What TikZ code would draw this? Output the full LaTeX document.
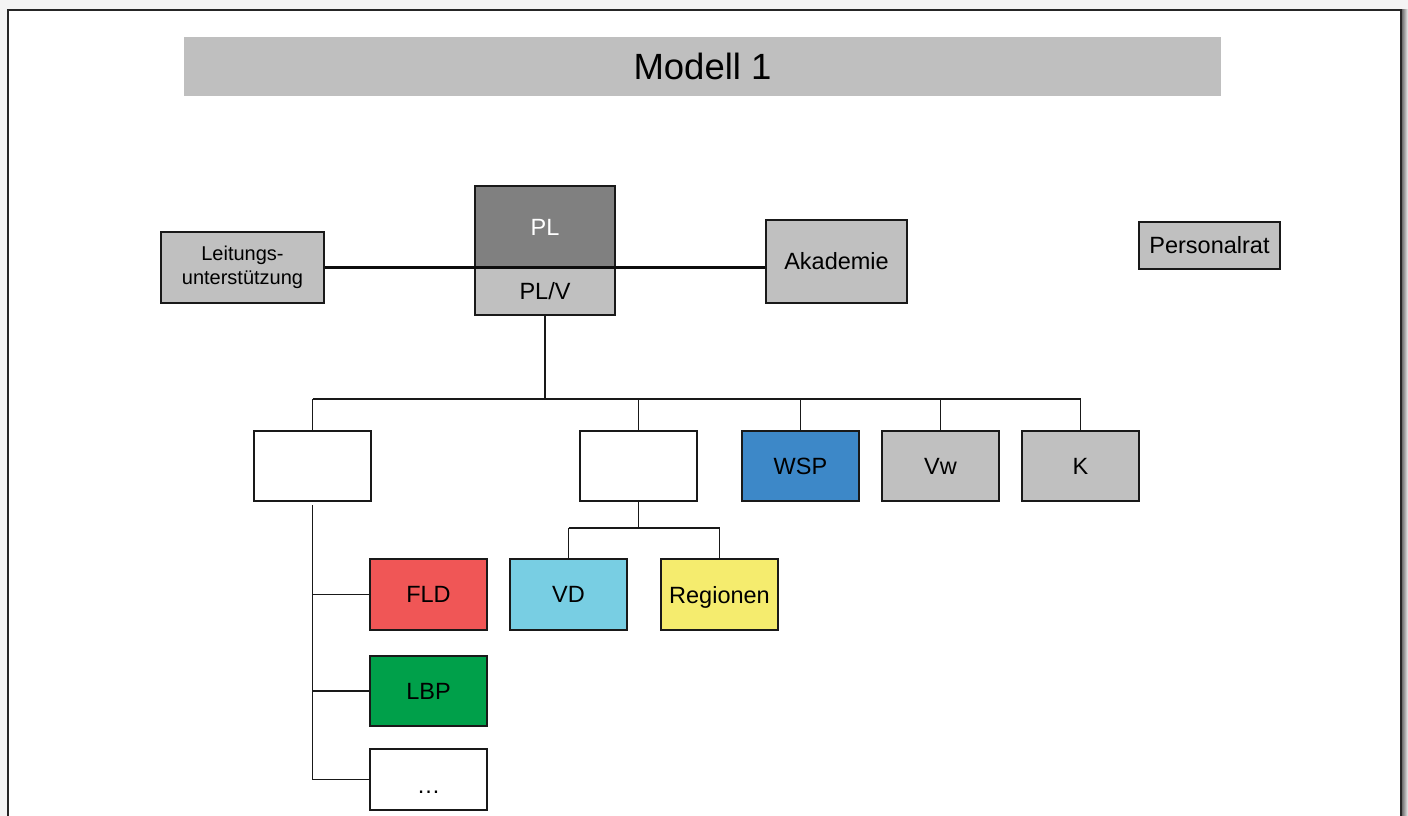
\documentclass[tikz,border=0pt]{standalone}
\usepackage{fontspec}
\setmainfont{Liberation Sans}
\definecolor{bggray}{HTML}{F4F4F4}
\definecolor{titlegray}{HTML}{BFBFBF}
\definecolor{boxgray}{HTML}{C0C0C0}
\definecolor{plgray}{HTML}{808080}
\definecolor{wspblue}{HTML}{3D88C8}
\definecolor{fldred}{HTML}{F05656}
\definecolor{vdblue}{HTML}{78CEE3}
\definecolor{regyellow}{HTML}{F5EC6E}
\definecolor{lbpgreen}{HTML}{00A04A}
\begin{document}
\begin{tikzpicture}[x=1pt,y=-1pt,
  orgbox/.style={draw=black!90, line width=2pt, inner sep=0pt, minimum width=117pt, minimum height=70pt,
    font=\fontsize{23.5}{27}\selectfont, align=center},
  conn/.style={draw=black!90, line width=1.8pt},
  mainconn/.style={draw=black!95, line width=2.3pt}]
\clip (0,0) rectangle (1408,816);
\fill[bggray] (0,0) rectangle (1408,816);
\shade[left color=black!65, right color=black!5] (1401,10) rectangle (1408,840);
\filldraw[fill=white, draw=black!85, line width=1.5pt] (8,10) rectangle (1401,840);
% title
\node[fill=titlegray, minimum width=1037pt, minimum height=59pt, inner sep=0pt,
  font=\fontsize{36.5}{40}\selectfont] (title) at (702.5,66.5) {Modell 1};
% top level
\node[orgbox, fill=plgray, text=white, minimum width=140pt, minimum height=82pt] (pl) at (545,227) {PL};
\node[orgbox, fill=boxgray, minimum width=140pt, minimum height=47pt] (plv) at (545,291.5) {PL/V};
\node[orgbox, fill=boxgray, minimum width=163pt, minimum height=71pt,
  font=\fontsize{20}{24}\selectfont] (lu) at (242.5,267.5) {Leitungs-\\unterstützung};
\node[orgbox, fill=boxgray, minimum width=141pt, minimum height=83pt] (ak) at (836.5,261.5) {Akademie};
\node[orgbox, fill=boxgray, minimum width=141pt, minimum height=47pt] (pr) at (1209.5,245.5) {Personalrat};
% second row
\node[orgbox, fill=white] (a) at (312.5,466) {};
\node[orgbox, fill=white] (b) at (638.5,466) {};
\node[orgbox, fill=wspblue] (wsp) at (800.5,466) {WSP};
\node[orgbox, fill=boxgray] (vw) at (940.5,466) {Vw};
\node[orgbox, fill=boxgray] (k) at (1080.5,466) {K};
% third row
\node[orgbox, fill=fldred, minimum height=71pt] (fld) at (428.5,594.5) {FLD};
\node[orgbox, fill=vdblue, minimum height=71pt] (vd) at (568.5,594.5) {VD};
\node[orgbox, fill=regyellow, minimum height=71pt, text depth=0pt] (reg) at (719.5,594.5) {Regionen};
\node[orgbox, fill=lbpgreen] (lbp) at (428.5,691) {LBP};
\node[orgbox, fill=white, minimum height=61pt] (dots) at (428.5,779.5) {};
\node[font=\fontsize{23.5}{27}\selectfont, inner sep=0pt] (dotstext) at ([yshift=-13pt]dots.center) {\dots};
% connectors
\coordinate (bus) at (0,399);
\coordinate (bus2) at (0,528);
\draw[mainconn] (lu.east) -- (ak.west |- lu.east);
\draw[conn] (plv.south) -- (plv.south |- bus);
\draw[conn] (a.north |- bus) -- (k.north |- bus);
\foreach \n in {a,b,wsp,vw,k} \draw[conn] (\n.north |- bus) -- (\n.north);
\draw[conn] (b.south) -- (b.south |- bus2);
\draw[conn] (vd.north |- bus2) -- (reg.north |- bus2);
\foreach \n in {vd,reg} \draw[conn] (\n.north |- bus2) -- (\n.north);
\draw[conn] ([yshift=-3pt]a.south) -- (a.south |- dots.west);
\foreach \n in {fld,lbp,dots} \draw[conn] (a.south |- \n.west) -- (\n.west);
\end{tikzpicture}
\end{document}
